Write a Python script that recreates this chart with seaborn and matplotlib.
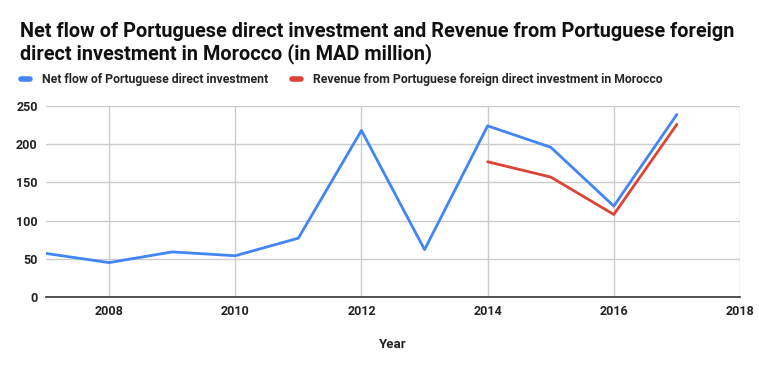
import pandas as pd
import seaborn as sns
from matplotlib import pyplot as plt
from matplotlib.lines import Line2D

years = [2007, 2008, 2009, 2010, 2011, 2012, 2013, 2014, 2015, 2016, 2017]
net_flow = [57, 45, 59, 54, 77, 218, 62, 224, 196, 119, 239]
rev_years = [2014, 2015, 2016, 2017]
revenue = [177, 157, 108, 226]

name_net = "Net flow of Portuguese direct investment"
name_rev = "Revenue from Portuguese foreign direct investment in Morocco"

df = pd.concat([
    pd.DataFrame({"Year": years, "value": net_flow, "series": name_net}),
    pd.DataFrame({"Year": rev_years, "value": revenue, "series": name_rev}),
])

sns.set_style("white")
plt.rcParams['font.family'] = ['Roboto', 'DejaVu Sans']

colors = {name_net: "#4285f4", name_rev: "#db4437"}

fig = plt.figure(figsize=(7.59, 3.71), dpi=100)
ax = fig.add_axes([46 / 759, 1 - 297 / 371, (740 - 46) / 759, (297 - 106) / 371])
sns.lineplot(data=df, x="Year", y="value", hue="series", palette=colors,
             linewidth=2, ax=ax, legend=False)

ax.set_xlim(2007, 2018)
ax.set_ylim(0, 250)
ax.set_xticks(range(2008, 2019, 2))
ax.set_yticks(range(0, 251, 50))
ax.grid(True, color="#cccccc", linewidth=1)
for s in ["top", "right", "left"]:
    ax.spines[s].set_visible(False)
ax.spines["bottom"].set_color("#333333")
ax.spines["bottom"].set_linewidth(1.2)
ax.tick_params(length=0, labelsize=9, colors="#222222", pad=6)
for lab in ax.get_xticklabels() + ax.get_yticklabels():
    lab.set_fontweight("bold")
ax.set_ylabel("")
ax.set_xlabel("Year", fontsize=9.5, fontweight="bold", color="#222222", labelpad=14)

fig.text(20 / 759, 1 - 43 / 371,
         "Net flow of Portuguese direct investment and Revenue from Portuguese foreign\n"
         "direct investment in Morocco (in MAD million)",
         fontsize=14.3, fontweight="bold", color="#111111", va="center", linespacing=1.12)

handles = [Line2D([], [], color=colors[name_net], lw=4),
           Line2D([], [], color=colors[name_rev], lw=4)]
fig.legend(handles, [name_net, name_rev], loc="center left",
           bbox_to_anchor=(10 / 759, 1 - 80 / 371), ncol=2, frameon=False,
           handlelength=0.7, handletextpad=1.0, columnspacing=2.0,
           prop={"size": 8.8, "weight": "bold"})

fig.savefig("out.png", dpi=100)
